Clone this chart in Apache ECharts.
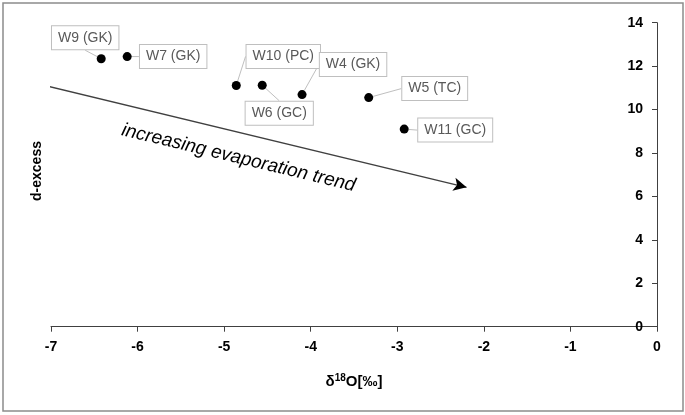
<!DOCTYPE html>
<html>
<head>
<meta charset="utf-8">
<script src="https://cdn.jsdelivr.net/npm/echarts@6/dist/echarts.min.js"></script>
<style>html,body{margin:0;padding:0;background:#fff}#c{width:685px;height:415px}</style>
</head>
<body>
<div id="c"></div>
<script>
// ---- data ----
const sampleNames = ['W9 (GK)', 'W7 (GK)', 'W10 (PC)', 'W6 (GC)', 'W4 (GK)', 'W5 (TC)', 'W11 (GC)'];
const d18O = [-6.42, -6.12, -4.86, -4.56, -4.10, -3.33, -2.92];
const dExcess = [12.34, 12.44, 11.11, 11.12, 10.69, 10.55, 9.10];
const trendStart = [-7.02, 11.06];
const trendEnd = [-2.20, 6.42];
const trendText = 'increasing evaporation trend';
const xTicks = [-7, -6, -5, -4, -3, -2, -1, 0];
const yTicks = [0, 2, 4, 6, 8, 10, 12, 14];

// ---- layout (label box offsets in px, not data) ----
const labelShift = [[-16, -21], [46, 0], [47, -29], [17, 28], [51, -30], [66, -9], [51, 1]];

const chart = echarts.init(document.getElementById('c'), null, {renderer: 'canvas'});
const font = '"Liberation Sans", Arial, sans-serif';
const axisColor = '#404040';

function buildOption(arrowRotate) {
  return {
    animation: false,
    backgroundColor: '#fff',
    grid: {left: 51, right: 28, top: 22.7, bottom: 88.3, containLabel: false},
    xAxis: {
      type: 'value', min: xTicks[0], max: xTicks[xTicks.length - 1], interval: 1,
      splitLine: {show: false},
      axisLine: {onZero: false, lineStyle: {color: axisColor, width: 1}},
      axisTick: {show: true, length: 5, lineStyle: {color: axisColor}},
      axisLabel: {color: '#000', fontWeight: 'bold', fontSize: 14, fontFamily: font, margin: 13},
      name: '{a|δ}{s|18}{a|O[‰]}',
      nameLocation: 'middle', nameGap: 47,
      nameTextStyle: {
        rich: {
          a: {fontSize: 15, fontWeight: 'bold', fontFamily: font, color: '#000'},
          s: {fontSize: 10, fontWeight: 'bold', fontFamily: font, color: '#000', verticalAlign: 'top', padding: [0, 0, 6, 0]}
        }
      }
    },
    yAxis: {
      type: 'value', min: yTicks[0], max: yTicks[yTicks.length - 1], interval: 2,
      position: 'right',
      splitLine: {show: false},
      axisLine: {show: true, onZero: false, lineStyle: {color: axisColor, width: 1}},
      axisTick: {show: true, inside: true, length: 5, lineStyle: {color: axisColor}},
      axisLabel: {inside: true, color: '#000', fontWeight: 'bold', fontSize: 14, fontFamily: font, margin: 14}
    },
    series: [
      {
        type: 'line',
        data: [trendStart, trendEnd],
        symbol: (v, p) => (p.dataIndex === 1 ? 'arrow' : 'none'),
        symbolSize: [10, 13],
        symbolRotate: arrowRotate,
        showSymbol: true,
        lineStyle: {color: '#404040', width: 1.3},
        itemStyle: {color: '#000'},
        silent: true,
        z: 2
      },
      {
        type: 'scatter',
        symbol: 'circle', symbolSize: 9,
        itemStyle: {color: '#000', opacity: 1},
        data: d18O.map((x, i) => ({value: [x, dExcess[i]], name: sampleNames[i]})),
        label: {
          show: true, position: 'inside',
          formatter: p => p.name,
          color: '#595959', fontSize: 14, fontFamily: font,
          backgroundColor: '#fff', borderColor: '#bfbfbf', borderWidth: 1,
          padding: [5, 6, 4, 6]
        },
        labelLayout: p => ({dx: labelShift[p.dataIndex][0], dy: labelShift[p.dataIndex][1]}),
        labelLine: {show: true, lineStyle: {color: '#bfbfbf', width: 1}},
        z: 3
      }
    ]
  };
}

chart.setOption(buildOption(0));
const p0 = chart.convertToPixel({gridIndex: 0}, trendStart);
const p1 = chart.convertToPixel({gridIndex: 0}, trendEnd);
const ang = Math.atan2(p1[1] - p0[1], p1[0] - p0[0]);
const arrowRotate = -(90 + ang * 180 / Math.PI);
const opt = buildOption(arrowRotate);
const ux = Math.cos(ang), uy = Math.sin(ang);
const mx = (p0[0] + p1[0]) / 2, my = (p0[1] + p1[1]) / 2;
const along = -14, perp = 25;
const tx = mx + ux * along - uy * perp;
const ty = my + uy * along + ux * perp;
opt.graphic = [
  {type: 'rect', shape: {x: 3, y: 3, width: 680, height: 408}, style: {fill: 'none', stroke: '#8c8c8c', lineWidth: 1.5}, silent: true},
  {type: 'text', x: 37, y: 171, rotation: Math.PI / 2,
   style: {text: 'd-excess', fill: '#000', font: 'bold 14px "Liberation Sans", Arial, sans-serif', align: 'center', verticalAlign: 'middle'}},
  {type: 'text', x: tx, y: ty, rotation: -ang,
   style: {text: trendText, fill: '#000', font: 'italic 19px "Liberation Sans", Arial, sans-serif', align: 'center', verticalAlign: 'middle'}}
];
chart.setOption(opt, true);
</script>
</body>
</html>
